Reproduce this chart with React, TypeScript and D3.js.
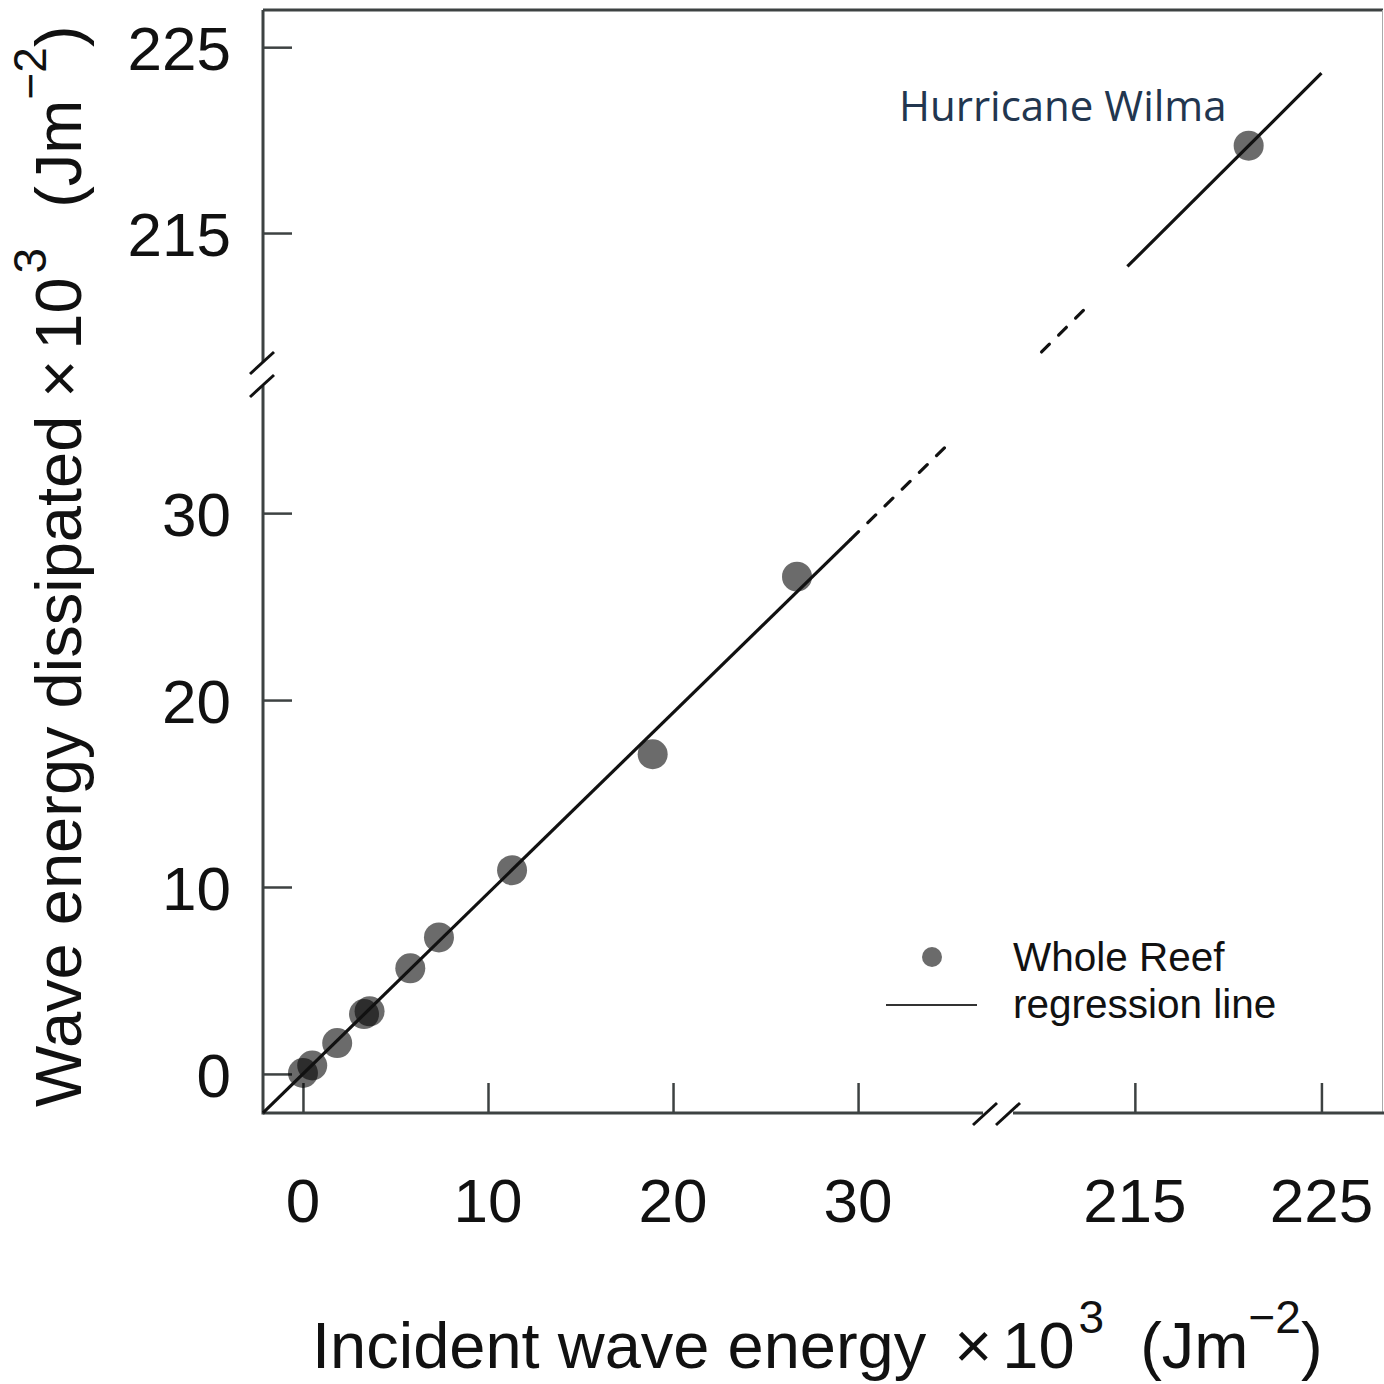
import React, { useEffect, useRef } from "react";
import * as d3 from "d3";

// incident (x) vs dissipated (y), x10^3 J m^-2
const reefX = [0.0, 0.5, 1.85, 3.3, 3.6, 5.8, 7.35, 11.3, 18.9, 26.7];
const reefY = [0.05, 0.45, 1.65, 3.2, 3.35, 5.65, 7.3, 10.9, 17.1, 26.6];
const wilma = { x: 221.1, y: 219.7, label: "Hurricane Wilma" };

const lowTicks = [0, 10, 20, 30];
const highTicks = [215, 225];

// regression segments: [x0, x1] in each broken region, line = slope*x + intercept
const regLow = { slope: 0.966, intercept: 0, solid: [-2.16, 29.6], dashed: [29.6, 35.0] };
const regHigh = { slope: 1.0, intercept: -1.4, dashed: [210.0, 212.3], solid: [214.6, 225] };

const legendItems = ["Whole Reef", "regression line"];

const W = 1384;
const H = 1384;

export default function App() {
	const ref = useRef<SVGSVGElement | null>(null);

	useEffect(() => {
		const svg = d3.select(ref.current);
		svg.selectAll("*").remove();

		const xLow = d3.scaleLinear().domain([-2.16, 36.86]).range([263, 985]);
		const xHigh = d3.scaleLinear().domain([208.2, 228.3]).range([1008, 1383]);
		const yLow = d3.scaleLinear().domain([-2.09, 36.8]).range([1113, 386]);
		const yHigh = d3.scaleLinear().domain([208.06, 227]).range([362, 10]);

		const axisColor = "#3d4242";
		const font = "'Liberation Sans', Arial, sans-serif";

		// frame: top + right
		svg.append("line")
			.attr("x1", 263).attr("x2", W - 1)
			.attr("y1", yHigh(227)).attr("y2", yHigh(227))
			.attr("stroke", axisColor).attr("stroke-width", 3);
		svg.append("line")
			.attr("x1", W - 1.5).attr("x2", W - 1.5)
			.attr("y1", yHigh(227)).attr("y2", yLow(-2.09))
			.attr("stroke", "#aaa").attr("stroke-width", 1);

		// left and bottom axes, two pieces each
		const yAxisLow = svg.append("g").attr("transform", `translate(263,0)`)
			.call(d3.axisRight(yLow).tickValues(lowTicks).tickSize(29).tickFormat(() => ""));
		const yAxisHigh = svg.append("g").attr("transform", `translate(263,0)`)
			.call(d3.axisRight(yHigh).tickValues(highTicks).tickSize(29).tickFormat(() => ""));
		const xAxisLow = svg.append("g").attr("transform", `translate(0,1113)`)
			.call(d3.axisTop(xLow).tickValues(lowTicks).tickSize(30).tickFormat(() => ""));
		const xAxisHigh = svg.append("g").attr("transform", `translate(0,1113)`)
			.call(d3.axisTop(xHigh).tickValues(highTicks).tickSize(30).tickFormat(() => ""));

		[yAxisLow, yAxisHigh, xAxisLow, xAxisHigh].forEach((g) => {
			g.select(".domain").remove();
			g.selectAll(".tick line").attr("stroke", axisColor).attr("stroke-width", 2.5);
		});

		// axis lines with break gaps
		svg.append("line").attr("x1", 263).attr("x2", 263)
			.attr("y1", yHigh(227)).attr("y2", yHigh(208.06))
			.attr("stroke", axisColor).attr("stroke-width", 3);
		svg.append("line").attr("x1", 263).attr("x2", 263)
			.attr("y1", yLow(36.8)).attr("y2", yLow(-2.09) + 1.5)
			.attr("stroke", axisColor).attr("stroke-width", 3);
		svg.append("line").attr("x1", 263).attr("x2", xLow(36.86) - 2)
			.attr("y1", 1113).attr("y2", 1113)
			.attr("stroke", axisColor).attr("stroke-width", 3);
		svg.append("line").attr("x1", xHigh(208.2) + 5).attr("x2", W)
			.attr("y1", 1113).attr("y2", 1113)
			.attr("stroke", axisColor).attr("stroke-width", 3);

		// break marks
		const slash = (cx: number, cy: number) =>
			svg.append("line")
				.attr("x1", cx - 12).attr("y1", cy + 11)
				.attr("x2", cx + 12).attr("y2", cy - 11)
				.attr("stroke", "#111").attr("stroke-width", 3);
		slash(262, 363);
		slash(262, 386);
		slash(985, 1114);
		slash(1008, 1114);

		// tick labels
		const tickSize = 62;
		const yLabel = (y: number, t: number) =>
			svg.append("text").attr("x", 231).attr("y", y).attr("dy", "0.37em")
				.attr("text-anchor", "end").attr("font-family", font).attr("font-size", tickSize)
				.attr("fill", "#111").text(t);
		const xLabel = (x: number, t: number) =>
			svg.append("text").attr("x", x).attr("y", 1222)
				.attr("text-anchor", "middle").attr("font-family", font).attr("font-size", tickSize)
				.attr("fill", "#111").text(t);
		lowTicks.forEach((t) => {
			yLabel(yLow(t), t);
			xLabel(xLow(t), t);
		});
		highTicks.forEach((t) => {
			yLabel(yHigh(t), t);
			xLabel(xHigh(t), t);
		});

		// points
		const pts = svg.append("g");
		pts.selectAll("circle.reef")
			.data(reefX.map((x, i) => ({ x, y: reefY[i] })))
			.join("circle")
			.attr("class", "reef")
			.attr("cx", (d) => xLow(d.x))
			.attr("cy", (d) => yLow(d.y))
			.attr("r", 15)
			.attr("fill", "#000")
			.attr("fill-opacity", 0.58);
		pts.append("circle")
			.attr("cx", xHigh(wilma.x)).attr("cy", yHigh(wilma.y)).attr("r", 15)
			.attr("fill", "#000").attr("fill-opacity", 0.58);

		// regression line
		const seg = (
			xs: number[],
			r: { slope: number; intercept: number },
			sx: d3.ScaleLinear<number, number>,
			sy: d3.ScaleLinear<number, number>,
			dashed: boolean
		) => {
			const line = d3.line<number>()
				.x((x) => sx(x))
				.y((x) => sy(r.slope * x + r.intercept));
			svg.append("path")
				.attr("d", line(xs))
				.attr("fill", "none")
				.attr("stroke", "#111")
				.attr("stroke-width", 3.2)
				.attr("stroke-dasharray", dashed ? "11 13" : null)
				.attr("stroke-linecap", dashed ? "round" : "butt");
		};
		seg(regLow.solid, regLow, xLow, yLow, false);
		seg(regLow.dashed, regLow, xLow, yLow, true);
		seg(regHigh.dashed, regHigh, xHigh, yHigh, true);
		seg(regHigh.solid, regHigh, xHigh, yHigh, false);

		// annotation
		svg.append("text")
			.attr("x", 899).attr("y", 121)
			.attr("font-family", "'Open Sans', sans-serif")
			.attr("font-size", 42)
			.attr("fill", "#22364f")
			.text(wilma.label);

		// legend
		svg.append("circle").attr("cx", 932).attr("cy", 957).attr("r", 10)
			.attr("fill", "#000").attr("fill-opacity", 0.58);
		svg.append("line").attr("x1", 886).attr("x2", 977).attr("y1", 1005).attr("y2", 1005)
			.attr("stroke", "#333").attr("stroke-width", 2.2);
		legendItems.forEach((t, i) => {
			svg.append("text").attr("x", 1013).attr("y", 971 + i * 47)
				.attr("font-family", font).attr("font-size", 40.5)
				.attr("fill", "#111").text(t);
		});

		// axis titles
		const title = (
			g: d3.Selection<SVGTextElement, unknown, null, undefined>,
			main: string,
			gapX: number,
			gapParen: number
		) => {
			g.attr("font-family", font).attr("font-size", 65).attr("fill", "#111");
			g.append("tspan").text(main);
			g.append("tspan").attr("dx", gapX).text("\u00D7");
			g.append("tspan").attr("dx", 10).text("10");
			g.append("tspan").attr("dx", 4).attr("dy", -35).attr("font-size", 46).text("3");
			g.append("tspan").attr("dx", gapParen).attr("dy", 35).text("(Jm");
			g.append("tspan").attr("dy", -35).attr("font-size", 46).text("\u22122");
			g.append("tspan").attr("dy", 35).text(")");
		};
		title(svg.append("text").attr("x", 312).attr("y", 1368) as any, "Incident wave energy", 28, 36);
		title(
			svg.append("text").attr("transform", "translate(81,1107) rotate(-90)") as any,
			"Wave energy dissipated",
			18,
			40
		);
	}, []);

	return (
		<svg
			ref={ref}
			width={W}
			height={H}
			style={{ position: "absolute", left: 0, top: 0, background: "#fff" }}
		/>
	);
}
